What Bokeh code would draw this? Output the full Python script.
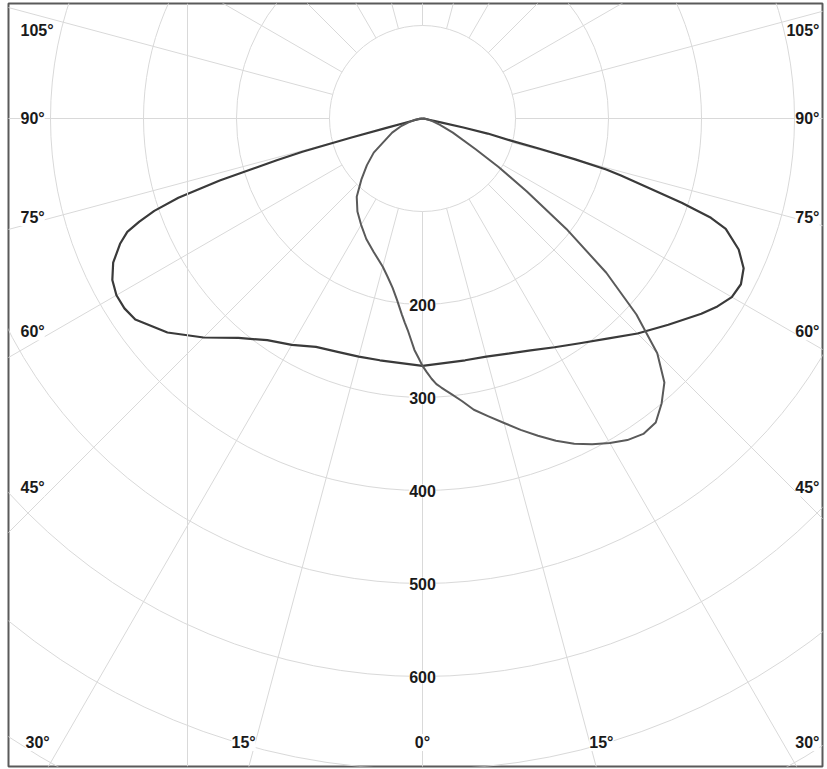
import numpy as np
from bokeh.plotting import figure
from bokeh.models import Range1d, ColumnDataSource, LabelSet, Span
from bokeh.core.properties import value
from bokeh.embed import file_html
from bokeh.resources import INLINE

# ---------------- data (gamma angle in degrees from nadir, intensity in cd) ----------------
# C0-C180 plane (wide, symmetric wings)
wide_left_angle = [0, 5, 10, 15, 20, 25, 30, 35, 40, 45, 50, 55, 57.5, 60, 62.5, 65, 67.5, 69, 70, 71,
                   72, 73, 74, 74.5, 75, 75.5, 76, 78, 82, 90]
wide_left_cd = [266, 264, 264, 265, 267, 271, 281, 291, 308, 333, 358, 377, 380, 380, 376, 367, 352, 340, 324, 305,
                276, 228, 163, 134, 80, 40, 18, 8, 3, 0]
wide_right_angle = [0, 5, 10, 15, 20, 25, 30, 35, 40, 45, 50, 55, 57.5, 60, 62.5, 65, 67.5, 70, 71,
                    72, 73, 74, 74.5, 75, 75.5, 76, 77, 77.6, 78, 80, 85, 90]
wide_right_cd = [266, 264, 264, 265, 269, 275, 284, 295, 309, 327, 345, 366, 376, 384, 386, 381, 368, 347, 328,
                 293, 252, 222, 205, 170, 130, 97, 72, 45, 20, 6, 2, 0]
# C90-C270 plane (asymmetric, street side to the right)
asym_left_angle = [0, 1, 2, 3, 4, 5, 6, 8, 10, 12.5, 15, 20, 25, 30, 35, 40, 45, 50, 55, 60, 65, 70, 75, 80, 85, 90]
asym_left_cd = [266, 257, 249, 238, 228, 220, 212, 197, 185, 174, 165, 153, 143, 132, 122, 110, 93, 78, 64, 46,
                36, 25, 15, 8, 3, 0]
asym_right_angle = [0, 1, 2, 3, 4, 5, 6, 8, 10, 12.5, 15, 17.5, 20, 22.5, 25, 27.5, 30, 32.5, 35, 37.5, 40, 42.5,
                    45, 47.5, 50, 52.5, 55, 57.5, 60, 65, 70, 75, 80, 85, 90]
asym_right_cd = [266, 273, 280, 286, 290, 294, 298, 307, 318, 328, 339, 351, 363, 375, 386, 395, 403, 410, 414,
                 412, 400, 385, 357, 312, 258, 195, 137, 97, 66, 36, 20, 11, 5, 2, 0]

ring_values = [100, 200, 300, 400, 500, 600, 700, 800, 900]
ring_tick_labels = [200, 300, 400, 500, 600]
side_label_angles = [105, 90, 75, 60, 45]
bottom_label_angles = [-30, -15, 0, 15, 30]
spoke_angles = list(range(0, 360, 15))

# ---------------- layout ----------------
W, H = 827, 769
ML, MR, MT, MB = 8, 5, 3, 3
SCALE = 0.93  # px per cd
X0, X1 = -(422 - ML) / SCALE, (W - MR - 422) / SCALE
Y0, Y1 = -(H - MB - 118) / SCALE, (118 - MT) / SCALE
GRID = "#d9d9d9"
TXT = "#1a1a1a"
FONT = "Liberation Sans"
FS = "16px"

p = figure(width=W, height=H, x_range=Range1d(X0, X1), y_range=Range1d(Y0, Y1),
           output_backend="svg", toolbar_location=None,
           min_border_left=ML, min_border_right=MR, min_border_top=MT, min_border_bottom=MB,
           background_fill_color="white", border_fill_color="white")
p.axis.visible = False
p.grid.visible = False
p.outline_line_color = "#5a5a5a"
p.outline_line_width = 2


def polar(angles, cds, side):
    a = np.radians(np.asarray(angles, dtype=float))
    r = np.asarray(cds, dtype=float)
    return side * r * np.sin(a), -r * np.cos(a)


# grid rings
p.circle(x=[0] * len(ring_values), y=[0] * len(ring_values), radius=ring_values,
         fill_color=None, line_color=GRID, line_width=1)
# spokes
sa = np.radians(spoke_angles)
r_in, r_out = ring_values[0], ring_values[-1]
p.segment(x0=r_in * np.sin(sa), y0=-r_in * np.cos(sa), x1=r_out * np.sin(sa), y1=-r_out * np.cos(sa),
          line_color=GRID, line_width=1)
p.add_layout(Span(location=-252.7, dimension="height", line_color=GRID, line_width=1))

# curves
lx, ly = polar(wide_left_angle, wide_left_cd, -1)
rx, ry = polar(wide_right_angle, wide_right_cd, 1)
p.line(np.concatenate([lx[::-1], rx[1:]]), np.concatenate([ly[::-1], ry[1:]]),
       line_color="#3a3a3a", line_width=2.2, line_join="round")
lx, ly = polar(asym_left_angle, asym_left_cd, -1)
rx, ry = polar(asym_right_angle, asym_right_cd, 1)
p.line(np.concatenate([lx[::-1], rx[1:]]), np.concatenate([ly[::-1], ry[1:]]),
       line_color="#5a5a5a", line_width=2.0, line_join="round")

# labels
X_LEFT = (20 - 422) / SCALE
X_RIGHT = (819 - 422) / SCALE
X_SIDE = 416
Y_TOP_LIMIT = (118 - 30) / SCALE
Y_BOTTOM = -(742 - 118) / SCALE


def side_y(a):
    y = -X_SIDE * np.cos(np.radians(a)) / np.sin(np.radians(a)) * 0.955
    return min(y, Y_TOP_LIMIT)


left_src = {"x": [], "y": [], "t": []}
right_src = {"x": [], "y": [], "t": []}
center_src = {"x": [], "y": [], "t": []}
for a in side_label_angles:
    left_src["x"].append(X_LEFT); left_src["y"].append(side_y(a)); left_src["t"].append(f"{a}°")
    right_src["x"].append(X_RIGHT); right_src["y"].append(side_y(a)); right_src["t"].append(f"{a}°")
for a in bottom_label_angles:
    if abs(a) >= 30:
        d = left_src if a < 0 else right_src
        d["x"].append(X_LEFT + 5 / SCALE if a < 0 else X_RIGHT)
        d["y"].append(Y_BOTTOM); d["t"].append(f"{abs(a)}°")
    else:
        center_src["x"].append(np.sign(a) * -Y_BOTTOM * np.tan(np.radians(abs(a))) * 1.07)
        center_src["y"].append(Y_BOTTOM); center_src["t"].append(f"{abs(a)}°")
for v in ring_tick_labels:
    center_src["x"].append(0); center_src["y"].append(-v); center_src["t"].append(str(v))

for src, align in ((left_src, "left"), (right_src, "right"), (center_src, "center")):
    p.add_layout(LabelSet(x="x", y="y", text="t", source=ColumnDataSource(src),
                          text_align=value(align), text_baseline=value("middle"),
                          text_font=value(FONT), text_font_size=value(FS),
                          text_font_style=value("bold"),
                          text_color=value(TXT), background_fill_color=value("white")))

open("out.html", "w").write(file_html(p, INLINE))
